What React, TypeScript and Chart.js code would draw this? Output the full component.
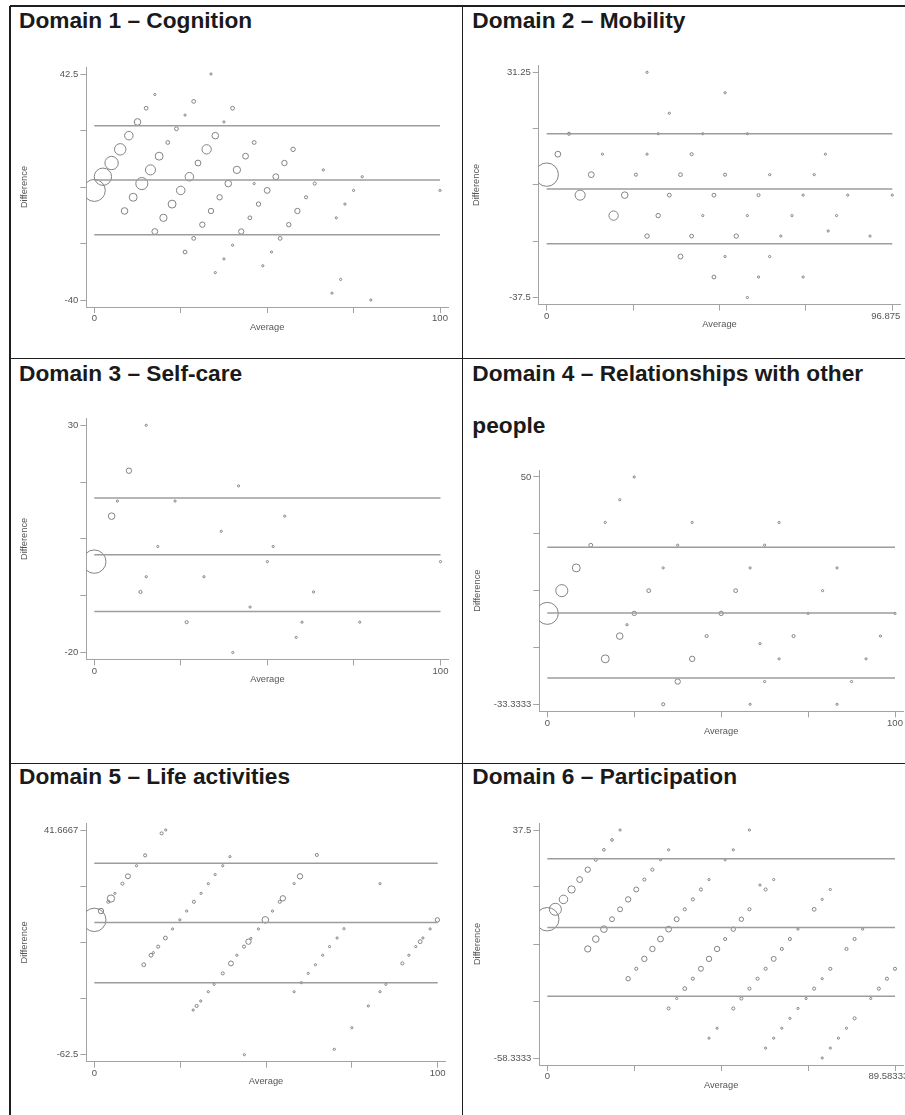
import React, { useEffect, useRef } from "react";
import { Chart, registerables } from "chart.js";

Chart.register(...registerables);
Chart.defaults.font.family = "'Liberation Sans', Arial, Helvetica, sans-serif";

// [average, difference, count]
type Pt = [number, number, number];

// ---------- Domain 1 – Cognition ----------
const d1Points: Pt[] = [
  [0, 0, 100], [2.5, 5, 62], [5, 10, 37], [7.5, 15, 27], [10, 20, 15], [12.5, 25, 9], [15, 30, 3], [17.5, 35, 1],
  [8.75, -7.5, 9], [11.25, -2.5, 13], [13.75, 2.5, 30], [16.25, 7.5, 21], [18.75, 12.5, 13], [21.25, 17.5, 3],
  [23.75, 22.5, 3], [26.25, 27.5, 1], [28.75, 32.5, 3], [33.75, 42.5, 1],
  [17.5, -15, 7], [20, -10, 11], [22.5, -5, 13], [25, 0, 15], [27.5, 5, 15], [30, 10, 7], [32.5, 15, 18],
  [35, 20, 9], [37.5, 25, 1], [40, 30, 3],
  [26.25, -22.5, 3], [28.75, -17.5, 3], [31.25, -12.5, 6], [33.75, -7.5, 6], [36.25, -2.5, 6], [38.75, 2.5, 9],
  [41.25, 7.5, 11], [43.75, 12.5, 7], [46.25, 17.5, 3],
  [35, -30, 1], [37.5, -25, 1], [40, -20, 1], [42.5, -15, 6], [45, -10, 3], [47.5, -5, 4], [50, 0, 7],
  [52.5, 5, 7], [55, 10, 6], [57.5, 15, 4],
  [48.75, -27.5, 1], [51.25, -22.5, 1], [53.75, -17.5, 3], [56.25, -12.5, 4], [58.75, -7.5, 6], [61.25, -2.5, 2],
  [63.75, 2.5, 2], [66.25, 7.5, 1],
  [46.25, 2.5, 1], [70, -10, 1], [72.5, -5, 1], [75, 0, 1], [77.5, 5, 1], [68.75, -37.5, 1], [71.25, -32.5, 1],
  [80, -40, 1], [100, 0, 1],
];
const d1Lines = [23.6, 3.8, -16.2];
const d1XTicks = [0, 25, 50, 75, 100];
const d1YTicks = [-40, -19.375, 1.25, 21.875, 42.5];
const d1XLabels = ["0", "100"];
const d1YLabels = ["-40", "42.5"];

// ---------- Domain 2 – Mobility ----------
const d2Points: Pt[] = [
  [28.125, 31.25, 1], [50, 25, 1], [34.375, 18.75, 1],
  [6.25, 12.5, 2], [31.25, 12.5, 1], [43.75, 12.5, 1], [56.25, 12.5, 1],
  [3.125, 6.25, 7], [15.625, 6.25, 1], [28.125, 6.25, 1], [40.625, 6.25, 2], [78.125, 6.25, 1],
  [0, 0, 113], [12.5, 0, 7], [25, 0, 2], [37.5, 0, 3], [50, 0, 2], [62.5, 0, 1], [75, 0, 1],
  [9.375, -6.25, 21], [21.875, -6.25, 9], [34.375, -6.25, 3], [46.875, -6.25, 3], [59.375, -6.25, 2],
  [71.875, -6.25, 1], [84.375, -6.25, 1], [96.875, -6.25, 1],
  [18.75, -12.5, 18], [31.25, -12.5, 4], [43.75, -12.5, 1], [56.25, -12.5, 1], [68.75, -12.5, 1], [81.25, -12.5, 1],
  [78.9, -17.2, 1],
  [28.125, -18.75, 4], [40.625, -18.75, 3], [53.125, -18.75, 4], [65.625, -18.75, 1], [90.625, -18.75, 1],
  [37.5, -25, 5], [50, -25, 1], [62.5, -25, 1],
  [46.875, -31.25, 3], [59.375, -31.25, 1], [71.875, -31.25, 1],
  [56.25, -37.5, 1],
];
const d2Lines = [12.5, -4.4, -21.1];
const d2XTicks = [0, 24.21875, 48.4375, 72.65625, 96.875];
const d2YTicks = [-37.5, -20.3125, -3.125, 14.0625, 31.25];
const d2XLabels = ["0", "96.875"];
const d2YLabels = ["-37.5", "31.25"];

// ---------- Domain 3 – Self-care ----------
const d3Points: Pt[] = [
  [15, 30, 1], [10, 20, 6], [41.67, 16.67, 1], [6.67, 13.33, 1], [23.33, 13.33, 1], [5, 10, 9], [55, 10, 1],
  [36.67, 6.67, 1], [18.33, 3.33, 1], [51.67, 3.33, 1], [0, 0, 113], [50, 0, 1], [100, 0, 1],
  [15, -3.33, 1], [31.67, -3.33, 1], [13.33, -6.67, 2], [63.33, -6.67, 1], [45, -10, 1],
  [26.67, -13.33, 2], [60, -13.33, 1], [76.67, -13.33, 1], [58.33, -16.67, 1], [40, -20, 1],
];
const d3Lines = [14.0, 1.5, -11.0];
const d3XTicks = [0, 25, 50, 75, 100];
const d3YTicks = [-20, -7.5, 5, 17.5, 30];
const d3XLabels = ["0", "100"];
const d3YLabels = ["-20", "30"];

// ---------- Domain 4 – Relationships with other people ----------
const d4Points: Pt[] = [
  [25, 50, 1], [20.83, 41.67, 1], [16.67, 33.33, 1], [41.67, 33.33, 1], [66.67, 33.33, 1],
  [12.5, 25, 3], [37.5, 25, 1], [62.5, 25, 1],
  [8.33, 16.67, 13], [33.33, 16.67, 1], [58.33, 16.67, 1], [83.33, 16.67, 1],
  [4.17, 8.33, 30], [29.17, 8.33, 3], [54.17, 8.33, 3], [79.17, 8.33, 1],
  [0, 0, 100], [25, 0, 4], [50, 0, 4], [75, 0, 1], [100, 0, 1],
  [22.92, -4.17, 1],
  [20.83, -8.33, 9], [45.83, -8.33, 2], [70.83, -8.33, 2], [95.83, -8.33, 1],
  [61.17, -11.1, 1],
  [16.67, -16.67, 13], [41.67, -16.67, 6], [66.67, -16.67, 1], [91.67, -16.67, 1],
  [37.5, -25, 6], [62.5, -25, 1], [87.5, -25, 1],
  [33.33, -33.33, 2], [58.33, -33.33, 1], [83.33, -33.33, 1],
];
const d4Lines = [24.2, 0.1, -23.7];
const d4XTicks = [0, 25, 50, 75, 100];
const d4YTicks = [-33.3333, -12.5, 8.3333, 29.1667, 50];
const d4XLabels = ["0", "100"];
const d4YLabels = ["-33.3333", "50"];

// ---------- Domain 5 – Life activities ----------
const d5Points: Pt[] = [
  [0, 0, 113], [1.94, 4.1, 6], [4.1, 8.4, 2], [4.85, 9.9, 11], [6.0, 12.3, 1], [8.2, 16.8, 2], [9.8, 20.2, 5],
  [12.3, 25.1, 1], [14.8, 29.9, 2], [19.6, 40.1, 2], [20.8, 41.7, 1],
  [14.4, -20.8, 3], [16.5, -16.4, 3], [17.2, -15.2, 1], [18.6, -12.4, 2], [20.7, -8.4, 3], [22.8, -4.2, 1],
  [24.9, 0, 1], [26.9, 4.1, 1], [29.0, 8.4, 2], [31.1, 12.3, 1], [33.2, 16.8, 1], [35.2, 21.0, 1],
  [37.4, 25.1, 1], [39.5, 29.3, 1],
  [28.8, -41.8, 1], [29.8, -39.9, 2], [31.0, -37.6, 1], [33.2, -33.3, 1], [34.9, -29.9, 1], [37.4, -24.8, 2],
  [39.8, -20.2, 5], [41.5, -16.4, 1], [43.6, -12.4, 2], [44.9, -10.1, 6], [45.6, -8.6, 1], [47.8, -4.2, 1],
  [49.8, 0, 9], [51.9, 4.1, 1], [54.0, 8.4, 2], [54.9, 10.0, 6], [58.2, 16.8, 1], [59.9, 20.2, 6], [64.8, 30.1, 2],
  [58.2, -33.3, 1], [60.3, -29.1, 1], [62.3, -24.8, 1], [64.4, -20.8, 1], [66.5, -16.4, 1], [68.5, -12.4, 1],
  [70.7, -8.4, 1], [72.7, -4.1, 1],
  [69.9, -60.0, 1], [75.0, -50.0, 1], [79.8, -39.9, 1], [83.2, -33.3, 1], [84.9, -29.9, 1], [89.7, -20.2, 2],
  [91.6, -16.4, 1], [93.6, -12.4, 1], [94.9, -10.1, 3], [95.7, -8.4, 1], [97.8, -4.2, 1], [99.9, 0, 4],
  [43.7, -62.5, 1], [83.2, 16.8, 1],
];
const d5Lines = [26.2, -1.2, -29.1];
const d5XTicks = [0, 25, 50, 75, 100];
const d5YTicks = [-62.5, -36.4583, -10.4167, 15.625, 41.6667];
const d5XLabels = ["0", "100"];
const d5YLabels = ["-62.5", "41.6667"];

// ---------- Domain 6 – Participation ----------
const d6Points: Pt[] = [
  [0, 0, 113], [2.08, 4.17, 30], [4.17, 8.33, 15], [6.25, 12.5, 11], [8.33, 16.67, 7], [10.42, 20.83, 6],
  [12.5, 25, 2], [14.58, 29.17, 1.5], [16.67, 33.33, 1.5], [18.75, 37.5, 1],
  [10.42, -12.5, 8], [12.5, -8.33, 9], [14.58, -4.17, 9], [16.67, 0, 5], [18.75, 4.17, 5], [20.83, 8.33, 6],
  [22.92, 12.5, 5], [25, 16.67, 2], [27.08, 20.83, 2], [29.17, 25, 1], [31.25, 29.17, 1],
  [20.83, -25, 4], [22.92, -20.83, 2], [25, -16.67, 6], [27.08, -12.5, 6], [29.17, -8.33, 7], [31.25, -4.17, 7],
  [33.33, 0, 5], [35.42, 4.17, 2], [37.5, 8.33, 2], [39.58, 12.5, 2], [41.67, 16.67, 1], [45.83, 25, 1],
  [47.92, 29.17, 1], [52.08, 37.5, 1],
  [31.25, -37.5, 2], [33.33, -33.33, 1], [35.42, -29.17, 3], [37.5, -25, 2], [39.58, -20.83, 5],
  [41.67, -16.67, 6], [43.75, -12.5, 6], [45.83, -8.33, 2], [47.92, -4.17, 4], [50, 0, 4], [52.08, 4.17, 2],
  [54.8, 14.35, 1], [56.25, 12.5, 2], [58.33, 16.67, 1],
  [41.67, -50, 1], [43.75, -45.83, 1], [47.92, -37.5, 2], [50, -33.33, 2], [52.08, -29.17, 2], [54.17, -25, 2],
  [56.25, -20.83, 2], [58.33, -16.67, 5], [60.42, -12.5, 2], [62.5, -8.33, 2], [64.58, -4.17, 1],
  [68.75, 4.17, 3], [70.83, 8.33, 1], [72.92, 12.5, 1],
  [56.25, -54.17, 1], [58.33, -50, 1], [60.42, -45.83, 1], [62.5, -41.67, 1], [64.58, -37.5, 1],
  [66.67, -33.33, 1], [68.75, -29.17, 2], [70.83, -25, 1], [72.92, -20.83, 2], [77.08, -12.5, 2],
  [79.17, -8.33, 2], [81.25, -4.17, 1],
  [70.83, -58.33, 1], [72.92, -54.17, 1], [75, -50, 1], [77.08, -45.83, 1], [79.17, -41.67, 2],
  [83.33, -33.33, 1], [85.42, -29.17, 2], [87.5, -25, 2], [89.58, -20.83, 2],
];
const d6Lines = [25.4, -3.5, -32.4];
const d6XTicks = [0, 22.395833, 44.791667, 67.1875, 89.583333];
const d6YTicks = [-58.3333, -34.375, -10.4167, 13.5417, 37.5];
const d6XLabels = ["0", "89.58333"];
const d6YLabels = ["-58.3333", "37.5"];

// ---------- layout ----------
type PanelCfg = {
  points: Pt[];
  lines: number[];
  xTicks: number[];
  yTicks: number[];
  xLabels: string[];
  yLabels: string[];
  box: { l: number; r: number; t: number; b: number };
  endShift: number;
};

const panels: PanelCfg[] = [
  { points: d1Points, lines: d1Lines, xTicks: d1XTicks, yTicks: d1YTicks, xLabels: d1XLabels, yLabels: d1YLabels,
    box: { l: 86.3, r: 448, t: 67, b: 307 }, endShift: 0 },
  { points: d2Points, lines: d2Lines, xTicks: d2XTicks, yTicks: d2YTicks, xLabels: d2XLabels, yLabels: d2YLabels,
    box: { l: 538.7, r: 900.3, t: 65.3, b: 304.5 }, endShift: 5 },
  { points: d3Points, lines: d3Lines, xTicks: d3XTicks, yTicks: d3YTicks, xLabels: d3XLabels, yLabels: d3YLabels,
    box: { l: 86.3, r: 448.5, t: 418.3, b: 659.5 }, endShift: 0 },
  { points: d4Points, lines: d4Lines, xTicks: d4XTicks, yTicks: d4YTicks, xLabels: d4XLabels, yLabels: d4YLabels,
    box: { l: 539.3, r: 903, t: 470, b: 711.3 }, endShift: 0 },
  { points: d5Points, lines: d5Lines, xTicks: d5XTicks, yTicks: d5YTicks, xLabels: d5XLabels, yLabels: d5YLabels,
    box: { l: 86.3, r: 445.7, t: 823, b: 1061.7 }, endShift: 0 },
  { points: d6Points, lines: d6Lines, xTicks: d6XTicks, yTicks: d6YTicks, xLabels: d6XLabels, yLabels: d6YLabels,
    box: { l: 539.3, r: 903, t: 823, b: 1065 }, endShift: 5 },
];

const titles = [
  { text: "Domain 1 – Cognition", left: 19, baseline: 28.3 },
  { text: "Domain 2 – Mobility", left: 472.3, baseline: 28.3 },
  { text: "Domain 3 – Self-care", left: 19, baseline: 380.7 },
  { text: "Domain 4 – Relationships with other people", left: 472.3, baseline: 380.7 },
  { text: "Domain 5 – Life activities", left: 19, baseline: 784.3 },
  { text: "Domain 6 – Participation", left: 472.3, baseline: 784.3 },
];

const AXIS = "#a3a3a3";
const MARK = "#828282";
const TEXT = "#555555";
const TICK_FONT = 9.5;
const TITLE_FONT = 9.3;

function Panel({ cfg }: { cfg: PanelCfg }) {
  const ref = useRef<HTMLCanvasElement>(null);
  const g = cfg.box;
  const cl = Math.floor(g.l - 72);
  const ct = Math.floor(g.t - 6);
  const cw = Math.ceil(g.r + 16) - cl;
  const ch = Math.ceil(g.b + 30) - ct;

  useEffect(() => {
    if (!ref.current) return;
    const yW = g.l - cl;
    const xH = ct + ch - g.b;
    const padTop = g.t - ct;
    const padRight = cl + cw - g.r;
    const areaW = g.r - g.l;
    const areaH = g.b - g.t;
    const nx = cfg.xTicks.length;
    const ny = cfg.yTicks.length;
    const x0 = cfg.xTicks[0], x1 = cfg.xTicks[nx - 1];
    const y0 = cfg.yTicks[0], y1 = cfg.yTicks[ny - 1];
    const ux = (x1 - x0) / (areaW - 16);
    const uy = (y1 - y0) / (areaH - 14);
    const lh = TITLE_FONT * 1.2;
    const pad = "\u00A0".repeat(cfg.endShift);

    const lineSets = cfg.lines.map((v) => ({
      type: "line" as const,
      data: [{ x: x0, y: v }, { x: x1, y: v }],
      borderColor: "#9c9c9c",
      borderWidth: 1.5,
      pointRadius: 0,
      fill: false,
      showLine: true,
    }));

    const chart = new Chart(ref.current, {
      type: "bubble",
      data: {
        datasets: [
          ...lineSets,
          {
            type: "bubble" as const,
            data: cfg.points.map(([x, y, n]) => ({ x, y, r: 1.1 * Math.sqrt(n) })),
            backgroundColor: "rgba(0,0,0,0)",
            borderColor: MARK,
            borderWidth: 1,
          },
        ] as any,
      },
      options: {
        responsive: false,
        animation: false,
        devicePixelRatio: 1,
        events: [],
        layout: { autoPadding: false, padding: { left: 0, top: padTop, right: padRight, bottom: 0 } },
        plugins: { legend: { display: false }, tooltip: { enabled: false }, title: { display: false } },
        scales: {
          x: {
            type: "linear",
            position: "bottom",
            bounds: "data",
            min: x0 - 8 * ux,
            max: x1 + 8 * ux,
            afterBuildTicks: (s: any) => {
              s.ticks = cfg.xTicks.map((v) => ({ value: v }));
            },
            afterFit: (s: any) => {
              s.height = xH;
              s.paddingLeft = 0; s.paddingRight = 0; s.paddingTop = 0; s.paddingBottom = 0;
            },
            ticks: {
              autoSkip: false,
              maxRotation: 0,
              minRotation: 0,
              padding: 0,
              color: TEXT,
              font: { size: TICK_FONT },
              callback: (_v: any, i: number) =>
                i === 0 ? cfg.xLabels[0] : i === nx - 1 ? cfg.xLabels[1] + pad : "",
            },
            grid: { drawOnChartArea: false, drawTicks: true, tickLength: 6, color: AXIS, lineWidth: 1 },
            border: { display: true, color: AXIS, width: 1 },
            title: {
              display: true,
              text: "Average",
              color: TEXT,
              font: { size: TITLE_FONT },
              padding: { top: 0, bottom: xH - 20 - lh / 2 },
            },
          },
          y: {
            type: "linear",
            position: "left",
            bounds: "data",
            min: y0 - 7 * uy,
            max: y1 + 7 * uy,
            afterBuildTicks: (s: any) => {
              s.ticks = cfg.yTicks.map((v) => ({ value: v }));
            },
            afterFit: (s: any) => {
              s.width = yW;
              s.paddingLeft = 0; s.paddingRight = 0; s.paddingTop = 0; s.paddingBottom = 0;
            },
            ticks: {
              autoSkip: false,
              padding: 2,
              color: TEXT,
              font: { size: TICK_FONT },
              callback: (_v: any, i: number) =>
                i === 0 ? cfg.yLabels[0] : i === ny - 1 ? cfg.yLabels[1] : "",
            },
            grid: { drawOnChartArea: false, drawTicks: true, tickLength: 6, color: AXIS, lineWidth: 1 },
            border: { display: true, color: AXIS, width: 1 },
            title: {
              display: true,
              text: "Difference",
              color: TEXT,
              font: { size: TITLE_FONT },
              padding: { top: g.l - 62 - cl - lh / 2, bottom: 0 },
            },
          },
        },
      } as any,
    });
    return () => chart.destroy();
  }, []);

  return (
    <canvas
      ref={ref}
      width={cw}
      height={ch}
      style={{ position: "absolute", left: cl, top: ct, width: cw, height: ch }}
    />
  );
}

const BORDER = "#1e1e1e";

export default function App() {
  const hLines = [6, 358.3, 763.3];
  const vLines = [10, 462.3];
  return (
    <div
      style={{
        position: "absolute",
        left: 0,
        top: 0,
        width: 905,
        height: 1115,
        overflow: "hidden",
        background: "#ffffff",
      }}
    >
      {hLines.map((y, i) => (
        <div key={"h" + i} style={{ position: "absolute", left: 10, top: y - 0.75, width: 900, height: 1.5, background: BORDER }} />
      ))}
      {vLines.map((x, i) => (
        <div key={"v" + i} style={{ position: "absolute", left: x - 0.75, top: 6, width: 1.5, height: 1115, background: BORDER }} />
      ))}
      {titles.map((t, i) => (
        <div
          key={"t" + i}
          style={{
            position: "absolute",
            left: t.left,
            top: t.baseline - 33.86,
            width: 420,
            font: "bold 22.7px 'Liberation Sans', Arial, Helvetica, sans-serif",
            lineHeight: "52px",
            color: "#1a1a1a",
          }}
        >
          {t.text}
        </div>
      ))}
      {panels.map((p, i) => (
        <Panel key={i} cfg={p} />
      ))}
    </div>
  );
}
